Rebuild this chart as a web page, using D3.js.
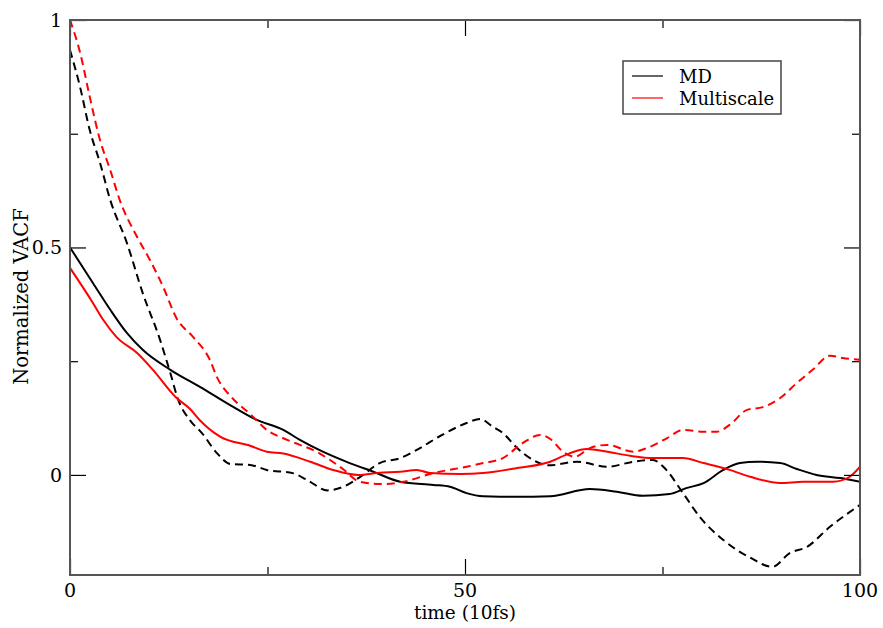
<!DOCTYPE html>
<html>
<head>
<meta charset="utf-8">
<script src="https://cdn.jsdelivr.net/npm/d3@7"></script>
<style>
  html, body { margin: 0; padding: 0; background: #fff; }
  svg { display: block; }
</style>
</head>
<body>
<svg id="chart" width="883" height="628"></svg>
<script>
// Velocity autocorrelation functions, time in units of 10 fs
const mdSolidT = [0, 2.9, 5.1, 7.2, 9.2, 12.7, 16.5, 20.6, 23.5, 27, 29.1, 32, 35.4, 38.4, 41.8, 46, 48.1, 50.2, 52.3, 54.4, 58.6, 60.8, 65.8, 69.2, 72.5, 75.9, 78, 80.2, 82.7, 84.8, 87, 89.9, 92, 94.5, 97.5, 100];
const mdSolidV = [0.50, 0.422, 0.363, 0.312, 0.275, 0.231, 0.193, 0.15, 0.122, 0.099, 0.077, 0.051, 0.026, 0.007, -0.015, -0.022, -0.026, -0.04, -0.047, -0.048, -0.048, -0.047, -0.031, -0.037, -0.046, -0.042, -0.029, -0.018, 0.011, 0.026, 0.029, 0.026, 0.013, 0.0, -0.007, -0.015];

const mdDashT = [0, 1.27, 2.5, 3.8, 5.1, 7.2, 9.2, 11.4, 12.7, 13.7, 15.2, 16.7, 18.6, 20.3, 22.8, 24.9, 28.2, 30, 32.6, 34.6, 36.6, 39.2, 41.8, 43.9, 46.8, 50.2, 51.9, 53.5, 54.8, 56.6, 58.6, 60.6, 64.2, 68, 71.3, 73.8, 75.1, 77.6, 79.7, 82.7, 86.1, 88.9, 91.1, 93.3, 96.2, 100];
const mdDashV = [0.934, 0.853, 0.758, 0.686, 0.604, 0.51, 0.40, 0.297, 0.224, 0.165, 0.12, 0.092, 0.048, 0.024, 0.022, 0.011, 0.004, -0.011, -0.034, -0.026, -0.006, 0.026, 0.037, 0.055, 0.085, 0.114, 0.123, 0.106, 0.092, 0.059, 0.033, 0.021, 0.029, 0.018, 0.029, 0.033, 0.018, -0.04, -0.092, -0.143, -0.182, -0.202, -0.172, -0.158, -0.114, -0.066];

const msSolidT = [0, 2.9, 4.2, 5.9, 8.5, 10.5, 13.5, 15.2, 16.5, 19, 22.8, 24.9, 27, 30.4, 33.3, 36.5, 39.2, 41.8, 43.9, 45.6, 49.4, 52.3, 56.6, 60.8, 63.3, 65.4, 68, 70.9, 73.8, 77.6, 80.2, 83.5, 86.1, 89.9, 92.8, 96.6, 98.7, 100];
const msSolidV = [0.455, 0.378, 0.341, 0.303, 0.268, 0.231, 0.169, 0.145, 0.119, 0.084, 0.064, 0.051, 0.047, 0.029, 0.011, 0.0, 0.005, 0.007, 0.011, 0.004, 0.002, 0.004, 0.015, 0.029, 0.048, 0.057, 0.051, 0.042, 0.037, 0.037, 0.026, 0.011, -0.004, -0.018, -0.015, -0.015, -0.004, 0.018];

const msDashT = [0, 1.3, 2.5, 3.8, 5.1, 6.3, 8.5, 10.1, 11.8, 13.5, 15.6, 17.7, 18.6, 20.6, 22.8, 24.9, 27.5, 31.3, 34.4, 36.7, 39.6, 42.2, 46, 50.2, 52.3, 54.8, 57.3, 59.5, 60.8, 62.4, 63.9, 65.8, 68, 71.3, 73, 75.6, 77.6, 80.2, 81.9, 83.5, 85.7, 87.7, 89.9, 92, 94, 96.2, 97.8, 100];
const msDashV = [1.0, 0.927, 0.831, 0.736, 0.67, 0.604, 0.523, 0.473, 0.413, 0.344, 0.303, 0.253, 0.215, 0.168, 0.134, 0.099, 0.077, 0.05, 0.015, -0.015, -0.02, -0.015, 0.004, 0.018, 0.026, 0.037, 0.07, 0.088, 0.079, 0.051, 0.04, 0.059, 0.066, 0.051, 0.059, 0.081, 0.099, 0.095, 0.095, 0.11, 0.143, 0.149, 0.169, 0.202, 0.231, 0.262, 0.257, 0.253];

const xMajor = [0, 50, 100];
const xMinor = [25, 75];
const yMajor = [0, 0.5, 1];
const yMinor = [0.25, 0.75];
const yTickLabels = ["0", "0.5", "1"];

const legendNames = ["MD", "Multiscale"];
const legendColors = ["#000000", "#ff0000"];

const series = [
  { t: mdSolidT, v: mdSolidV, color: "#000000", dash: null },
  { t: mdDashT,  v: mdDashV,  color: "#000000", dash: "8,5" },
  { t: msSolidT, v: msSolidV, color: "#ff0000", dash: null },
  { t: msDashT,  v: msDashV,  color: "#ff0000", dash: "8,5" }
];

const serif = "'DejaVu Serif', 'Liberation Serif', serif";
const svg = d3.select("#chart")
  .attr("font-family", serif)
  .style("font-family", serif);
const frameL = 70, frameR = 860, frameT = 20, frameB = 575;

const x = d3.scaleLinear().domain([0, 100]).range([frameL, frameR]);
const y = d3.scaleLinear().domain([-0.22, 1]).range([frameB, frameT]);

// Clip lines to the frame
svg.append("clipPath").attr("id", "plot-clip")
  .append("rect").attr("x", frameL).attr("y", frameT).attr("width", frameR - frameL).attr("height", frameB - frameT);

const line = d3.line()
  .x(d => x(d[0]))
  .y(d => y(d[1]))
  .curve(d3.curveMonotoneX);

const plot = svg.append("g").attr("clip-path", "url(#plot-clip)");
series.forEach(s => {
  plot.append("path")
    .datum(s.t.map((t, i) => [t, s.v[i]]))
    .attr("d", line)
    .attr("fill", "none")
    .attr("stroke", s.color)
    .attr("stroke-width", 2)
    .attr("stroke-linejoin", "round")
    .attr("stroke-dasharray", s.dash);
});

// Inward ticks on all four sides via d3 axes
const majorLen = 16, minorLen = 8;
const axisStyle = g => {
  g.select(".domain").remove();
  g.selectAll(".tick line").attr("stroke", "#000").attr("stroke-width", 1.2);
};
svg.append("g").attr("transform", `translate(0,${frameB})`)
  .call(d3.axisTop(x).tickValues(xMajor).tickSize(majorLen).tickFormat("")).call(axisStyle);
svg.append("g").attr("transform", `translate(0,${frameB})`)
  .call(d3.axisTop(x).tickValues(xMinor).tickSize(minorLen).tickFormat("")).call(axisStyle);
svg.append("g").attr("transform", `translate(0,${frameT})`)
  .call(d3.axisBottom(x).tickValues(xMajor).tickSize(majorLen).tickFormat("")).call(axisStyle);
svg.append("g").attr("transform", `translate(0,${frameT})`)
  .call(d3.axisBottom(x).tickValues(xMinor).tickSize(minorLen).tickFormat("")).call(axisStyle);
svg.append("g").attr("transform", `translate(${frameL},0)`)
  .call(d3.axisRight(y).tickValues(yMajor).tickSize(majorLen).tickFormat("")).call(axisStyle);
svg.append("g").attr("transform", `translate(${frameL},0)`)
  .call(d3.axisRight(y).tickValues(yMinor).tickSize(minorLen).tickFormat("")).call(axisStyle);
svg.append("g").attr("transform", `translate(${frameR},0)`)
  .call(d3.axisLeft(y).tickValues(yMajor).tickSize(majorLen).tickFormat("")).call(axisStyle);
svg.append("g").attr("transform", `translate(${frameR},0)`)
  .call(d3.axisLeft(y).tickValues(yMinor).tickSize(minorLen).tickFormat("")).call(axisStyle);

// Frame
svg.append("rect")
  .attr("x", frameL).attr("y", frameT).attr("width", frameR - frameL).attr("height", frameB - frameT)
  .attr("fill", "none").attr("stroke", "#555").attr("stroke-width", 2);

// Tick labels
svg.append("g").selectAll("text").data(xMajor).join("text")
  .attr("x", d => x(d)).attr("y", 597)
  .attr("text-anchor", "middle").attr("font-size", 19)
  .attr("fill", "#000")
  .text(d => d);
svg.append("g").selectAll("text").data(yMajor).join("text")
  .attr("x", 62).attr("y", d => y(d) + 7)
  .attr("text-anchor", "end").attr("font-size", 19)
  .attr("fill", "#000")
  .text((d, i) => yTickLabels[i]);

// Axis titles
svg.append("text")
  .attr("x", (frameL + frameR) / 2).attr("y", 619)
  .attr("text-anchor", "middle").attr("font-size", 18.5)
  .attr("fill", "#000")
  .text("time (10fs)");
svg.append("text")
  .attr("transform", `translate(28,${(frameT + frameB) / 2 - 1}) rotate(-90)`)
  .attr("text-anchor", "middle").attr("font-size", 19.5)
  .attr("fill", "#000")
  .text("Normalized VACF");

// Legend
const lg = svg.append("g");
lg.append("rect")
  .attr("x", 623).attr("y", 61).attr("width", 158).attr("height", 53)
  .attr("fill", "#fff").attr("stroke", "#444").attr("stroke-width", 1.5);
legendNames.forEach((name, i) => {
  const ly = 76 + i * 22;
  lg.append("line")
    .attr("x1", 632).attr("x2", 663).attr("y1", ly).attr("y2", ly)
    .attr("stroke", legendColors[i]).attr("stroke-width", 1.2);
  lg.append("text")
    .attr("x", 679).attr("y", ly + 7)
    .attr("font-size", 18)
    .attr("fill", "#000")
    .text(name);
});
</script>
</body>
</html>
